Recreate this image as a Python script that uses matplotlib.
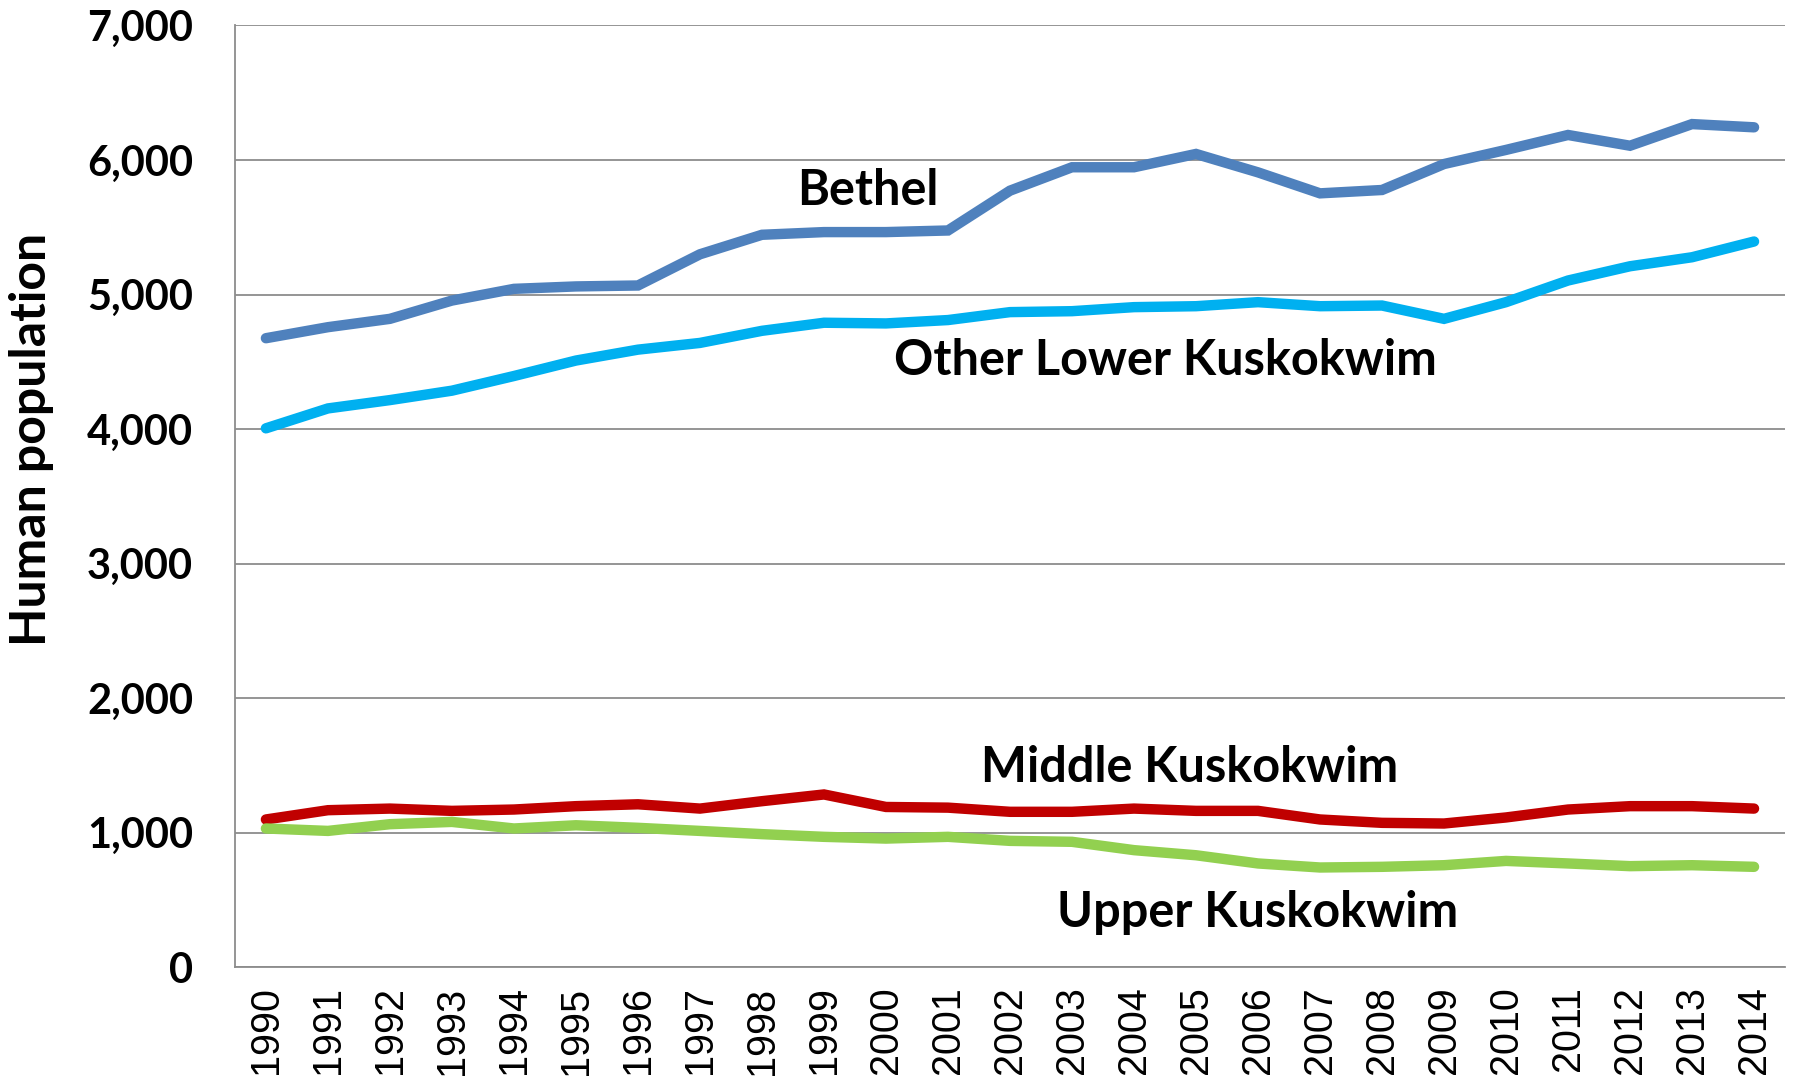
import matplotlib.pyplot as plt
from matplotlib.ticker import FuncFormatter

# datos
years = list(range(1990, 2015))
bethel = [4675, 4757, 4819, 4955, 5042, 5060, 5067, 5299, 5444, 5464, 5464, 5476,
          5772, 5946, 5946, 6045, 5908, 5752, 5777, 5970, 6075, 6186, 6106, 6267, 6243]
other_lower = [4005, 4153, 4215, 4285, 4394, 4509, 4590, 4640, 4730, 4790, 4785, 4810,
               4869, 4876, 4906, 4913, 4943, 4913, 4918, 4819, 4943, 5104, 5210, 5277, 5394]
middle = [1097, 1166, 1178, 1161, 1171, 1196, 1210, 1178, 1233, 1283, 1190, 1185,
          1154, 1154, 1178, 1161, 1161, 1097, 1072, 1067, 1112, 1171, 1196, 1196, 1178]
upper = [1030, 1012, 1062, 1079, 1030, 1054, 1035, 1012, 988, 968, 955, 968,
         938, 931, 869, 831, 770, 740, 745, 757, 789, 770, 750, 757, 745]
series_names = ["Bethel", "Other Lower Kuskokwim", "Middle Kuskokwim", "Upper Kuskokwim"]
colors = ["#4F81BD", "#00B0F0", "#C00000", "#92D050"]

bold_font = ["Lato", "DejaVu Sans"]

fig = plt.figure(figsize=(17.96, 10.8), dpi=100)
ax = fig.add_axes([0.1308, 0.1046, 0.8631, 0.8718])

x = list(range(len(years)))
for vals, c in zip([bethel, other_lower, middle, upper], colors):
    ax.plot(x, vals, color=c, linewidth=7.5, solid_capstyle="round",
            solid_joinstyle="miter", zorder=3)

# etiquetas de las series
label_pos = [(9.7, 5770), (14.5, 4506), (14.9, 1487), (16.0, 409)]
for name, (lx, ly) in zip(series_names, label_pos):
    ax.text(lx, ly, name, ha="center", va="center", fontsize=35,
            fontweight="bold", family=bold_font, zorder=4)

ax.set_xlim(-0.5, len(years) - 0.5)
ax.set_ylim(0, 7000)
ax.set_yticks(range(0, 7001, 1000))
ax.yaxis.set_major_formatter(FuncFormatter(lambda v, p: f"{int(v):,}"))
ax.set_xticks(x)
ax.set_xticklabels([str(y) for y in years], rotation=90, fontsize=28.5,
                   family=["Liberation Sans", "DejaVu Sans"])
for lab in ax.get_yticklabels():
    lab.set_fontsize(30)
    lab.set_fontweight("bold")
    lab.set_family(bold_font)

ax.grid(axis="y", color="#8C8C8C", linewidth=1.3, zorder=1)
ax.set_axisbelow(True)
for s in ["top", "right"]:
    ax.spines[s].set_visible(False)
for s in ["left", "bottom"]:
    ax.spines[s].set_color("#8C8C8C")
    ax.spines[s].set_linewidth(1.3)
ax.tick_params(axis="both", length=0)
ax.tick_params(axis="y", pad=30)
ax.tick_params(axis="x", pad=14)

ax.set_ylabel("Human population", fontsize=36, fontweight="bold", family=bold_font)
ax.yaxis.set_label_coords(-0.117, 0.56)

fig.savefig("out.png", dpi=100)
